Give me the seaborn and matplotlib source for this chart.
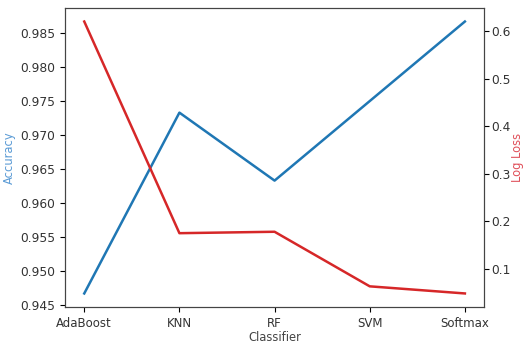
import matplotlib
matplotlib.use("Agg")
import matplotlib.pyplot as plt
import seaborn as sns
import pandas as pd

classifiers = ["AdaBoost", "KNN", "RF", "SVM", "Softmax"]
accuracy = [0.9467, 0.9733, 0.9633, 0.9750, 0.9867]
log_loss = [0.621, 0.175, 0.178, 0.063, 0.048]

df = pd.DataFrame({"Classifier": classifiers, "Accuracy": accuracy, "Log Loss": log_loss})

plt.rcParams["font.family"] = ["DejaVu Sans"]
plt.rcParams["font.size"] = 8.5
plt.rcParams["axes.labelsize"] = 8.3
plt.rcParams["xtick.labelsize"] = 8.5
plt.rcParams["ytick.labelsize"] = 8.8
plt.rcParams["axes.edgecolor"] = "#444444"
plt.rcParams["text.color"] = "#333333"
plt.rcParams["xtick.labelcolor"] = "#333333"
plt.rcParams["ytick.labelcolor"] = "#333333"

fig = plt.figure(figsize=(5.26, 3.45), dpi=100)
ax = fig.add_axes([0.124, 0.110, 0.796, 0.867])
sns.lineplot(data=df, x="Classifier", y="Accuracy", ax=ax, color="tab:blue", sort=False, linewidth=1.8)
ax.set_ylabel("Accuracy", color="#5b9bd5", labelpad=3)
ax.set_xlabel("Classifier", color="#444444", labelpad=1)

ax2 = ax.twinx()
sns.lineplot(data=df, x="Classifier", y="Log Loss", ax=ax2, color="tab:red", sort=False, linewidth=1.8)
ax2.set_ylabel("Log Loss", color="#e0505a", labelpad=0.5)
ax2.tick_params(axis="y", pad=1.5)

ax.set_yticks([0.945, 0.950, 0.955, 0.960, 0.965, 0.970, 0.975, 0.980, 0.985])
ax.set_yticklabels([f"{v:.3f}" for v in ax.get_yticks()])
ax2.set_yticks([0.1, 0.2, 0.3, 0.4, 0.5, 0.6])

fig.savefig("out.png", dpi=100)
